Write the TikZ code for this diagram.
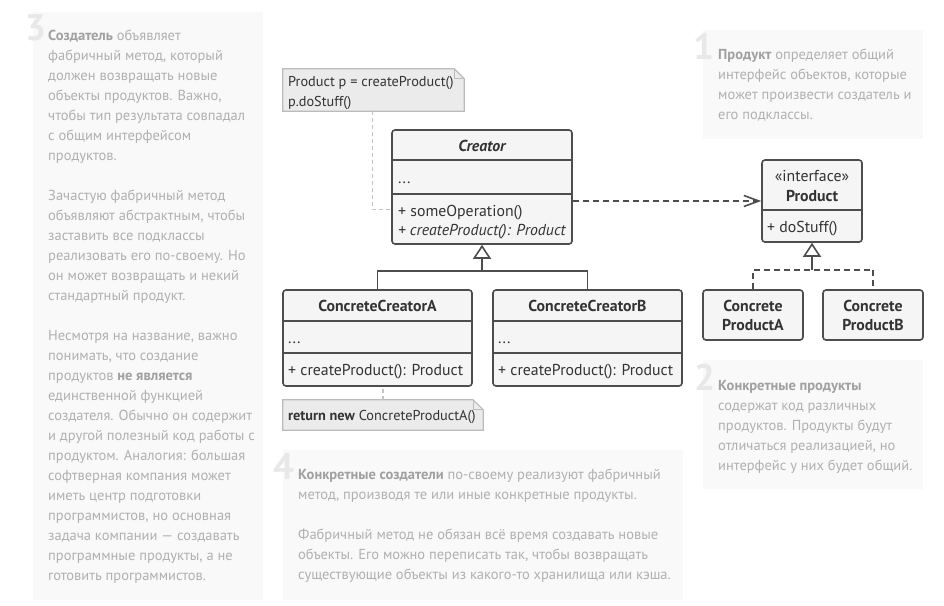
\documentclass[tikz,border=0pt]{standalone}
\usepackage{fontspec}
\setmainfont{PT Sans}
\usetikzlibrary{arrows.meta,calc}
\definecolor{panelbg}{HTML}{F9F9F9}
\definecolor{paneltxt}{HTML}{B0B0B0}
\definecolor{panelbold}{HTML}{A0A0A0}
\definecolor{numcol}{HTML}{E8E8E8}
\definecolor{umlline}{HTML}{4D4D4D}
\definecolor{umlfill}{HTML}{F5F5F5}
\definecolor{umltxt}{HTML}{333333}
\definecolor{notefill}{HTML}{EBEBEB}
\definecolor{noteline}{HTML}{BBBBBB}
\definecolor{linkcol}{HTML}{C4C4C4}
\newcommand{\ptxt}[2]{\parbox[t]{#1}{\raggedright\fontsize{14.5}{20}\selectfont\leavevmode #2}}
\newcommand{\pbf}[1]{{\bfseries\color{panelbold}#1}}
\tikzset{
  panel/.style={fill=panelbg, draw=none, inner sep=0},
  num/.style={font=\fontsize{37}{37}\selectfont\bfseries, text=numcol, inner sep=0, anchor=base west},
  ptext/.style={text=paneltxt, inner sep=0, anchor=base west},
  umlbox/.style={draw=umlline, fill=umlfill, line width=1.6pt, rounded corners=3pt, inner sep=0},
  sepline/.style={draw=umlline, line width=1.6pt},
  utext/.style={text=umltxt, font=\fontsize{15.8}{19}\selectfont, inner sep=0, anchor=base west},
  utitle/.style={text=umltxt, font=\fontsize{15.8}{19}\selectfont\bfseries, inner sep=0, anchor=base},
  notebg/.style={fill=notefill, draw=noteline, line width=1.2pt},
  ntext/.style={text=umltxt, font=\fontsize{14.3}{19}\selectfont, inner sep=0, anchor=base west},
  notelink/.style={draw=linkcol, line width=1.2pt, dash pattern=on 4pt off 3pt},
  dep/.style={draw=umlline, line width=1.6pt, dash pattern=on 6pt off 4pt, -{Straight Barb[length=15pt,width=11pt]}},
  inherit/.style={draw=umlline, line width=1.6pt},
  realize/.style={draw=umlline, line width=1.6pt, dash pattern=on 6pt off 4pt},
  tri/.style={draw=umlline, line width=1.6pt, -{Triangle[open,length=14pt,width=18pt,fill=white]}},
}
\begin{document}
\begin{tikzpicture}[x=1pt,y=-1pt]
\useasboundingbox (0,0) rectangle (944,605);
\fill[white] (0,0) rectangle (944,605);

% ---------- panels ----------
\node[panel, minimum width=230pt, minimum height=588pt] (p3) at (148,306) {};
\node[panel, minimum width=220pt, minimum height=109pt] (p1) at (813,84.5) {};
\node[panel, minimum width=220pt, minimum height=129pt] (p2) at (813,424.5) {};
\node[panel, minimum width=400pt, minimum height=150pt] (p4) at (483,525) {};

\node[num] (n3) at (25,40) {3};
\node[num] (n1) at (693,59) {1};
\node[num] (n2) at (694,390) {2};
\node[num] (n4) at (273,479) {4};

\node[ptext] (t3) at (48,40.5) {\ptxt{225pt}{\pbf{Создатель} объявляет\\
фабричный метод, который\\
должен возвращать новые\\
объекты продуктов. Важно,\\
чтобы тип результата совпадал\\
с общим интерфейсом\\
продуктов.\\[20pt]
Зачастую фабричный метод\\
объявляют абстрактным, чтобы\\
заставить все подклассы\\
реализовать его по-своему. Но\\
он может возвращать и некий\\
стандартный продукт.\\[20pt]
Несмотря на название, важно\\
понимать, что создание\\
продуктов \pbf{не является}\\
единственной функцией\\
создателя. Обычно он содержит\\
и другой полезный код работы с\\
продуктом. Аналогия: большая\\
софтверная компания может\\
иметь центр подготовки\\
программистов, но основная\\
задача компании — создавать\\
программные продукты, а не\\
готовить программистов.}};

\node[ptext] (t1) at (718,59) {\ptxt{215pt}{\pbf{Продукт} определяет общий\\
интерфейс объектов, которые\\
может произвести создатель и\\
его подклассы.}};

\node[ptext] (t2) at (718,390) {\ptxt{215pt}{\pbf{Конкретные продукты}\\
содержат код различных\\
продуктов. Продукты будут\\
отличаться реализацией, но\\
интерфейс у них будет общий.}};

\node[ptext] (t4) at (298,479) {\ptxt{400pt}{\pbf{Конкретные создатели} по-своему реализуют фабричный\\
метод, производя те или иные конкретные продукты.\\[20pt]
Фабричный метод не обязан всё время создавать новые\\
объекты. Его можно переписать так, чтобы возвращать\\
существующие объекты из какого-то хранилища или кэша.}};

% ---------- note 1 ----------
\node[inner sep=0, minimum width=181pt, minimum height=42pt] (note1) at (373.5,90) {};
\filldraw[notebg] (note1.north west) -- ($(note1.north east)+(-10,0)$) -- ($(note1.north east)+(0,10)$) -- (note1.south east) -- (note1.south west) -- cycle;
\draw[noteline, line width=1.2pt] ($(note1.north east)+(-10,0)$) -- ($(note1.north east)+(-10,10)$) -- ($(note1.north east)+(0,10)$);
\node[ntext] (note1a) at (288,86) {Product p = createProduct()};
\node[ntext] (note1b) at (288,106) {p.doStuff()};

% ---------- Creator ----------
\node[umlbox, minimum width=180pt, minimum height=114pt] (creator) at (482,187) {};
\draw[sepline] ($(creator.north west)+(0,31)$) -- ($(creator.north east)+(0,31)$);
\draw[sepline] ($(creator.north west)+(0,65)$) -- ($(creator.north east)+(0,65)$);
\node[utitle, font=\fontsize{15.8}{19}\selectfont\bfseries\itshape] (creatorT) at (482,151.5) {Creator};
\node[utext] (creatorA) at (398,183) {...};
\node[utext] (creatorM1) at (398,216) {+ someOperation()};
\node[utext, font=\fontsize{15.8}{19}\selectfont\itshape] (creatorM2) at (398,235.5) {+ createProduct(): Product};

\draw[notelink] ($(note1.south west)+(90,0)$) |- ($(creator.south west)+(0,-35)$);

% ---------- Concrete creators ----------
\node[umlbox, minimum width=189pt, minimum height=96pt] (cca) at (377.5,338) {};
\draw[sepline] ($(cca.north west)+(0,32)$) -- ($(cca.north east)+(0,32)$);
\draw[sepline] ($(cca.north west)+(0,64)$) -- ($(cca.north east)+(0,64)$);
\node[utitle] (ccaT) at (377.5,311.5) {ConcreteCreatorA};
\node[utext] (ccaA) at (288,343) {...};
\node[utext] (ccaM) at (288,375) {+ createProduct(): Product};

\node[umlbox, minimum width=189pt, minimum height=96pt] (ccb) at (587.5,338) {};
\draw[sepline] ($(ccb.north west)+(0,32)$) -- ($(ccb.north east)+(0,32)$);
\draw[sepline] ($(ccb.north west)+(0,64)$) -- ($(ccb.north east)+(0,64)$);
\node[utitle] (ccbT) at (587.5,311.5) {ConcreteCreatorB};
\node[utext] (ccbA) at (498,343) {...};
\node[utext] (ccbM) at (498,375) {+ createProduct(): Product};

\coordinate (cj) at ($(creator.south)+(0,26)$);
\draw[inherit] (cca.north) |- (cj) -| (ccb.north);
\draw[tri] (cj) -- (creator.south);

% ---------- note 2 ----------
\node[inner sep=0, minimum width=200pt, minimum height=30pt] (note2) at (383,415) {};
\filldraw[notebg] (note2.north west) -- ($(note2.north east)+(-10,0)$) -- ($(note2.north east)+(0,10)$) -- (note2.south east) -- (note2.south west) -- cycle;
\draw[noteline, line width=1.2pt] ($(note2.north east)+(-10,0)$) -- ($(note2.north east)+(-10,10)$) -- ($(note2.north east)+(0,10)$);
\node[ntext] (note2a) at (288,420.5) {\textbf{return new} ConcreteProductA()};
\draw[notelink] (note2.north) -- (note2.north |- cca.south);

% ---------- Product ----------
\node[umlbox, minimum width=100pt, minimum height=82pt] (product) at (812,201) {};
\draw[sepline] ($(product.north west)+(0,51)$) -- ($(product.north east)+(0,51)$);
\node[utitle, font=\fontsize{15.8}{19}\selectfont] (productS) at (812,181) {«interface»};
\node[utitle] (productT) at (812,201.5) {Product};
\node[utext] (productM) at (767,232) {+ doStuff()};

\node[umlbox, minimum width=100pt, minimum height=50pt, align=center, text=umltxt, font=\fontsize{15.8}{19}\selectfont\bfseries] (cpa) at (753,315) {Concrete\\ProductA};
\node[umlbox, minimum width=100pt, minimum height=50pt, align=center, text=umltxt, font=\fontsize{15.8}{19}\selectfont\bfseries] (cpb) at (873,315) {Concrete\\ProductB};

\coordinate (pj) at ($(product.south)+(0,27)$);
\draw[realize] (cpa.north) |- (pj) -| (cpb.north);
\draw[tri] (pj) -- (product.south);

\draw[dep] (creator.east |- product.west) -- (product.west);
\end{tikzpicture}
\end{document}
